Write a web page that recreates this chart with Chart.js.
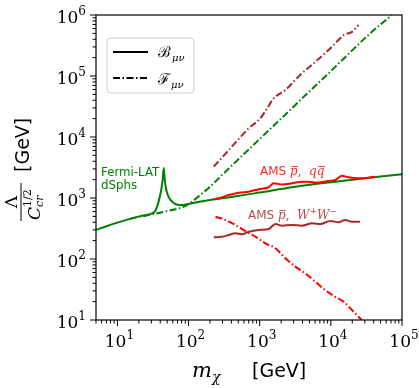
<!DOCTYPE html>
<html>
<head>
<meta charset="utf-8">
<script src="https://cdn.jsdelivr.net/npm/chart.js@4.4.1/dist/chart.umd.min.js"></script>
<style>
  html, body { margin: 0; padding: 0; background: #fff; }
</style>
</head>
<body>
<canvas id="myChart" width="419" height="388"></canvas>
<script>
// axis ranges (GeV)
const xRange = [5, 1e5];
const yRange = [10, 1e6];
const xTickExps = [1, 2, 3, 4, 5];
const yTickExps = [1, 2, 3, 4, 5, 6];

// [m_chi, Lambda]
const fermiB = [[5, 300], [7, 345], [10, 395], [15, 455], [21, 505], [30, 555], [34, 610], [38, 880], [41, 1300],
    [43, 1900], [44.8, 3100], [46.5, 1900], [49, 1300], [53, 1020], [60, 850], [70, 775], [85, 770], [107, 815],
    [200, 930], [500, 1080], [1000, 1230], [3000, 1520], [10000, 1820], [100000, 2460]];
const fermiF = [[15, 455], [21, 495], [30, 535], [45, 595], [65, 655], [86, 720], [110, 860], [150, 1150],
    [200, 1530], [350, 2880], [1000, 9300], [2300, 23400], [4600, 51000], [10000, 120000], [35000, 490000], [72000, 1000000]];
const amsQQ = [[226, 950], [266, 990], [367, 1120], [507, 1220], [701, 1270], [968, 1390], [1340, 1500], [1570, 1740],
    [2060, 1670], [2850, 1740], [3930, 1850], [4860, 1850], [6030, 1780], [9290, 1900], [11500, 1970], [14300, 2320],
    [17700, 2180], [24500, 2100], [42000, 2230]];
const amsQQF = [[239, 493], [330, 436], [456, 361], [630, 288], [871, 232], [1200, 181], [1660, 150], [2290, 103],
    [3170, 75], [4380, 58], [6040, 42.5], [8340, 31], [11500, 24], [15100, 20], [19800, 14.6], [24500, 11.3], [27300, 10]];
const amsWW = [[226, 227], [297, 232], [367, 247], [456, 264], [566, 254], [701, 280], [968, 299], [1340, 310],
    [1660, 375], [2060, 352], [2850, 361], [3930, 352], [5430, 385], [7100, 375], [9810, 420], [12800, 400],
    [15900, 436], [19800, 408], [25800, 408]];
const amsWWF = [[226, 3260], [388, 6530], [701, 13900], [1023, 20300], [1270, 29500], [1570, 43000], [2290, 58900],
    [3710, 104000], [5710, 161000], [9290, 267000], [12800, 389000], [15100, 470000], [19800, 530000], [24500, 686000]];

const GREEN = '#008000';
const RED = '#ff0000';
const BROWN = '#a52a2a';
const DASHDOT = [7, 2.5, 1.5, 2.5];

function series(points, color, dash) {
    return {
        data: points.map((p) => { return { x: p[0], y: p[1] } }),
        borderColor: color,
        backgroundColor: color,
        borderWidth: 2,
        borderDash: dash,
        pointRadius: 0,
        showLine: true,
        fill: false,
        cubicInterpolationMode: 'monotone',
        clip: 0
    };
}

// draws a run of text pieces with their own fonts, offsets and overbars
function drawRich(ctx, x, y, parts, color) {
    ctx.fillStyle = color;
    ctx.strokeStyle = color;
    ctx.textAlign = 'left';
    ctx.textBaseline = 'alphabetic';
    let cx = x;
    parts.forEach((p) => {
        ctx.font = p.font;
        const w = ctx.measureText(p.t).width;
        const bx = cx + (p.dx || 0);
        const by = y + (p.dy || 0);
        ctx.fillText(p.t, bx, by);
        if (p.bar) {
            ctx.lineWidth = 0.9;
            ctx.beginPath();
            ctx.moveTo(bx + 1.5, by - p.bar);
            ctx.lineTo(bx + w + 0.5, by - p.bar);
            ctx.stroke();
        }
        if (!p.stay) cx = bx + w;
    });
    return cx - x;
}

function richWidth(ctx, parts) {
    let w = 0;
    parts.forEach((p) => { ctx.font = p.font; if (!p.stay) w += ctx.measureText(p.t).width + (p.dx || 0); });
    return w;
}

function powerLabel(e) {
    return [
        { t: '10', font: '17px "DejaVu Serif"' },
        { t: String(e), font: '12px "DejaVu Serif"', dy: -8.5 }
    ];
}

const decor = {
    id: 'decor',
    afterDraw(chart) {
        const ctx = chart.ctx;
        const a = chart.chartArea;
        const xs = chart.scales.x;
        const ys = chart.scales.y;
        ctx.save();

        // frame
        ctx.strokeStyle = '#000';
        ctx.lineWidth = 1.2;
        ctx.strokeRect(a.left, a.top, a.right - a.left, a.bottom - a.top);

        // ticks
        ctx.lineWidth = 1;
        for (let e = 0; e <= 6; e++) {
            for (let k = 1; k <= 9; k++) {
                const v = k * Math.pow(10, e);
                const len = k === 1 ? 6 : 3.5;
                if (v >= xRange[0] && v <= xRange[1]) {
                    const px = xs.getPixelForValue(v);
                    ctx.beginPath(); ctx.moveTo(px, a.bottom); ctx.lineTo(px, a.bottom + len); ctx.stroke();
                }
                if (v >= yRange[0] && v <= yRange[1]) {
                    const py = ys.getPixelForValue(v);
                    ctx.beginPath(); ctx.moveTo(a.left, py); ctx.lineTo(a.left - len, py); ctx.stroke();
                }
            }
        }

        // tick labels
        xTickExps.forEach((e) => {
            const parts = powerLabel(e);
            const px = xs.getPixelForValue(Math.pow(10, e));
            const w = richWidth(ctx, parts);
            drawRich(ctx, px - w / 2 + 2, a.bottom + 27, parts, '#000');
        });
        yTickExps.forEach((e) => {
            const parts = powerLabel(e);
            const py = ys.getPixelForValue(Math.pow(10, e));
            const w = richWidth(ctx, parts);
            drawRich(ctx, 86 - w, py + 8, parts, '#000');
        });

        // x title
        drawRich(ctx, 192, 377, [
            { t: 'm', font: 'italic 21px "DejaVu Serif"' },
            { t: 'χ', font: 'italic 14px "DejaVu Serif"', dy: 5 }
        ], '#000');
        drawRich(ctx, 252, 377, [{ t: '[GeV]', font: '19px "DejaVu Sans"' }], '#000');

        // y title, rotated
        ctx.save();
        ctx.translate(21, 222);
        ctx.rotate(-Math.PI / 2);
        ctx.lineWidth = 1;
        ctx.strokeStyle = '#000';
        ctx.beginPath(); ctx.moveTo(1, 0); ctx.lineTo(39, 0); ctx.stroke();
        ctx.font = '17px "DejaVu Serif"';
        const lw = ctx.measureText('Λ').width;
        drawRich(ctx, 20 - lw / 2, -4, [{ t: 'Λ', font: '17px "DejaVu Serif"' }], '#000');
        drawRich(ctx, 2, 19, [
            { t: 'C', font: 'italic 17px "DejaVu Serif"' },
            { t: '1/2', font: '11px "DejaVu Serif"', dy: -9, stay: true },
            { t: 'cr', font: 'italic 11px "DejaVu Serif"', dy: 3 }
        ], '#000');
        drawRich(ctx, 50, 8, [{ t: '[GeV]', font: '19px "DejaVu Sans"' }], '#000');
        ctx.restore();

        // legend box
        ctx.fillStyle = 'rgba(255,255,255,0.8)';
        ctx.strokeStyle = '#cccccc';
        ctx.lineWidth = 1;
        ctx.beginPath();
        ctx.roundRect(107, 38, 87, 55, 4);
        ctx.fill();
        ctx.stroke();
        ctx.strokeStyle = '#000';
        ctx.lineWidth = 2;
        ctx.beginPath(); ctx.moveTo(113, 52); ctx.lineTo(148, 52); ctx.stroke();
        ctx.setLineDash(DASHDOT);
        ctx.beginPath(); ctx.moveTo(113, 78); ctx.lineTo(148, 78); ctx.stroke();
        ctx.setLineDash([]);
        drawRich(ctx, 158, 57, [
            { t: 'ℬ', font: '15px "DejaVu Serif"' },
            { t: 'μν', font: 'italic 10px "DejaVu Serif"', dy: 4, dx: 1 }
        ], '#000');
        drawRich(ctx, 158, 84, [
            { t: 'ℱ', font: '15px "DejaVu Serif"' },
            { t: 'μν', font: 'italic 10px "DejaVu Serif"', dy: 4, dx: 1 }
        ], '#000');

        // curve annotations
        drawRich(ctx, 101, 176, [{ t: 'Fermi-LAT', font: '11.8px "DejaVu Sans"' }], GREEN);
        drawRich(ctx, 101, 189, [{ t: 'dSphs', font: '11.8px "DejaVu Sans"' }], GREEN);
        drawRich(ctx, 260, 175, [
            { t: 'AMS ', font: '12px "DejaVu Sans"' },
            { t: 'p', font: 'italic 12px "DejaVu Serif"', bar: 8.5 },
            { t: ',  ', font: '12px "DejaVu Serif"' },
            { t: 'q', font: 'italic 12px "DejaVu Serif"' },
            { t: 'q', font: 'italic 12px "DejaVu Serif"', bar: 8.5 }
        ], 'rgba(255,0,0,0.85)');
        drawRich(ctx, 248, 219, [
            { t: 'AMS ', font: '12px "DejaVu Sans"' },
            { t: 'p', font: 'italic 12px "DejaVu Serif"', bar: 8.5 },
            { t: ',  ', font: '12px "DejaVu Serif"' },
            { t: 'W', font: 'italic 12px "DejaVu Serif"' },
            { t: '+', font: '9px "DejaVu Serif"', dy: -5 },
            { t: 'W', font: 'italic 12px "DejaVu Serif"' },
            { t: '−', font: '9px "DejaVu Serif"', dy: -5 }
        ], 'rgba(165,42,42,0.85)');

        ctx.restore();
    }
};

const config = {
    type: 'scatter',
    data: {
        datasets: [
            series(amsQQ, RED, []),
            series(amsWW, BROWN, []),
            series(amsQQF, RED, DASHDOT),
            series(amsWWF, BROWN, DASHDOT),
            series(fermiB, GREEN, []),
            series(fermiF, GREEN, DASHDOT)
        ]
    },
    options: {
        responsive: false,
        animation: false,
        events: [],
        layout: { padding: { top: 15, right: 17, left: 0, bottom: 0 } },
        plugins: { legend: { display: false }, tooltip: { enabled: false } },
        scales: {
            x: {
                type: 'logarithmic',
                min: xRange[0],
                max: xRange[1],
                ticks: { display: false },
                grid: { display: false },
                border: { display: false },
                afterFit: (s) => { s.height = 68; }
            },
            y: {
                type: 'logarithmic',
                min: yRange[0],
                max: yRange[1],
                ticks: { display: false },
                grid: { display: false },
                border: { display: false },
                afterFit: (s) => { s.width = 96; }
            }
        }
    },
    plugins: [decor]
};

const myChart = new Chart(document.getElementById('myChart'), config);
</script>
</body>
</html>
